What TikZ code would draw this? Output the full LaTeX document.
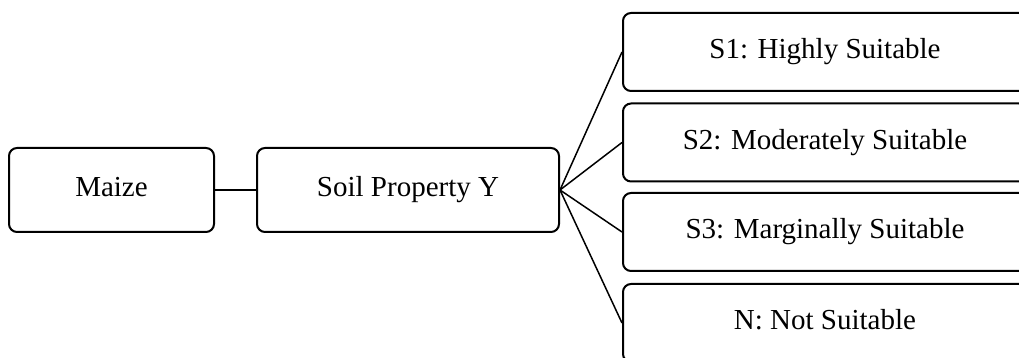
\documentclass[tikz,border=0pt]{standalone}
\usepackage{fontspec}
\setmainfont{Liberation Serif}
\begin{document}
\begin{tikzpicture}[x=0.5pt,y=-0.5pt,
  box/.style={draw=black,line width=1pt,rounded corners=4pt,inner sep=0pt,
    font=\fontsize{14.5}{17}\selectfont,text height=0.662em,text depth=0pt},
  leftbox/.style={box,minimum height=42pt},
  rightbox/.style={box,minimum width=202pt,minimum height=39pt},
  link/.style={draw=black,line width=0.75pt}]
\useasboundingbox (0,0) rectangle (1019,358);
\clip (0,0) rectangle (1019,358);
\node[leftbox,minimum width=102.5pt] (maize) at (111.5,190) {Maize};
\node[leftbox,minimum width=151pt] (soil) at (408,190) {Soil Property Y};
\node[rightbox] (s1) at (825,52) {S1: Highly Suitable};
\node[rightbox] (s2) at (825,142.5) {S2: Moderately Suitable};
\node[rightbox] (s3) at (825,232) {S3: Marginally Suitable};
\node[rightbox] (n) at (825,323) {N: Not Suitable};
\draw[link] (maize.east) -- (soil.west);
\draw[link] (soil.east) -- (s1.west);
\draw[link] (soil.east) -- (s2.west);
\draw[link] (soil.east) -- (s3.west);
\draw[link] (soil.east) -- (n.west);
\end{tikzpicture}
\end{document}
